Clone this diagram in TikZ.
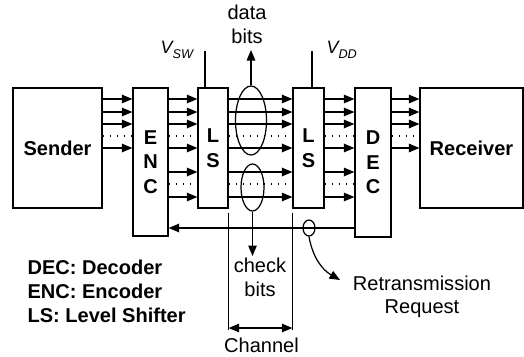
\documentclass[tikz,border=0pt]{standalone}
\usepackage{fontspec}
\setmainfont{Liberation Sans}
\usetikzlibrary{arrows.meta,shapes.geometric}
\newcommand{\volt}[1]{\fontsize{10.2}{12}\selectfont\itshape V\raisebox{-3.4pt}{\fontsize{7.2}{8}\selectfont #1}}

\begin{document}
\begin{tikzpicture}[x=0.02cm,y=-0.02cm,line width=0.7pt,
  txt/.style={font=\fontsize{11.4}{13.4}\selectfont},
  bold/.style={font=\fontsize{11.4}{13.9}\selectfont\bfseries},
  blk/.style={draw,bold,minimum height=2.4cm,inner sep=0,align=center},
  sig/.style={-{Triangle[length=0.21cm,width=0.17cm]}},
  both/.style={{Triangle[length=0.21cm,width=0.17cm]}-{Triangle[length=0.21cm,width=0.17cm]}},
  dots/.style={dash pattern=on 0.7pt off 3.3pt},
  oval/.style={draw,ellipse,inner sep=0}]
\useasboundingbox (0,0) rectangle (524,356);
\node[blk,minimum width=1.78cm] (sender) at (57.5,148) {Sender};
\node[blk,minimum width=0.7cm,minimum height=2.96cm] (enc) at (150.5,162) {E\\N\\C};
\node[blk,minimum width=0.6cm] (ls1) at (213,148) {L\\S};
\node[blk,minimum width=0.62cm] (ls2) at (308.5,148) {L\\S};
\node[blk,minimum width=0.72cm,minimum height=2.98cm] (dec) at (373,162.5) {D\\E\\C};
\node[blk,minimum width=2.06cm] (recv) at (471.5,148) {Receiver};
\foreach \y in {99,112,124,148} {
  \draw[sig] (sender.east |- 0,\y) -- (enc.west |- 0,\y);
  \draw[sig] (dec.east |- 0,\y) -- (recv.west |- 0,\y);
}
\foreach \y in {99,112,124,148,172,197} {
  \draw[sig] (enc.east |- 0,\y) -- (ls1.west |- 0,\y);
  \draw[sig] (ls1.east |- 0,\y) -- (ls2.west |- 0,\y);
  \draw[sig] (ls2.east |- 0,\y) -- (dec.west |- 0,\y);
}
\foreach \a/\b in {sender/enc,enc/ls1,ls1/ls2,ls2/dec,dec/recv}
  \draw[dots] (\a.east |- 0,136) -- (\b.west |- 0,136);
\foreach \a/\b in {enc/ls1,ls1/ls2,ls2/dec}
  \draw[dots] (\a.east |- 0,184) -- (\b.west |- 0,184);
\node[oval,minimum width=0.62cm,minimum height=1.38cm] (data) at (251,120.5) {};
\node[oval,minimum width=0.46cm,minimum height=0.94cm] (check) at (252.5,187.5) {};
\node[oval,minimum width=0.24cm,minimum height=0.32cm] (rq) at (309,228) {};
\node[txt,align=center,anchor=south] (databits) at (247,50) {data\\bits};
\draw[sig] (data.north) -- (data.north |- databits.south);
\node[txt,align=center,anchor=north,inner sep=1pt] (checkbits) at (260,256) {check\\bits};
\draw[sig] (check.south) -- (check.south |- checkbits.north);
\draw[sig] (dec.west |- rq) -- (enc.east |- rq);
\node[anchor=base west,inner sep=0] (vsw) at (160,53) {\volt{SW}};
\draw ([xshift=-0.16cm]ls1.north) -- ++(0,-36);
\node[anchor=base west,inner sep=0] (vdd) at (326,53) {\volt{DD}};
\draw ([xshift=0.07cm]ls2.north) -- ++(0,-36);
\coordinate (chl) at (ls1.east |- 0,328);
\coordinate (chr) at (ls2.west |- 0,328);
\draw ([yshift=-0.08cm]ls1.south east) -- ([yshift=-0.04cm]chl);
\draw ([yshift=-0.08cm]ls2.south west) -- ([yshift=-0.04cm]chr);
\draw[both] (chl) -- (chr);
\node[txt,anchor=north,inner sep=0] (chan) at (261.5,337) {Channel};
\node[txt,align=center,anchor=north,inner sep=0] (retx) at (422,275) {Retransmission\\Request};
\coordinate (rqtip) at (340,280);
\draw[sig] (rq.south) to[out=-80,in=150] (rqtip);
\node[bold,align=left,anchor=north west,inner sep=0] (legend) at (27,259) {DEC: Decoder\\ENC: Encoder\\LS: Level Shifter};
\end{tikzpicture}
\end{document}
